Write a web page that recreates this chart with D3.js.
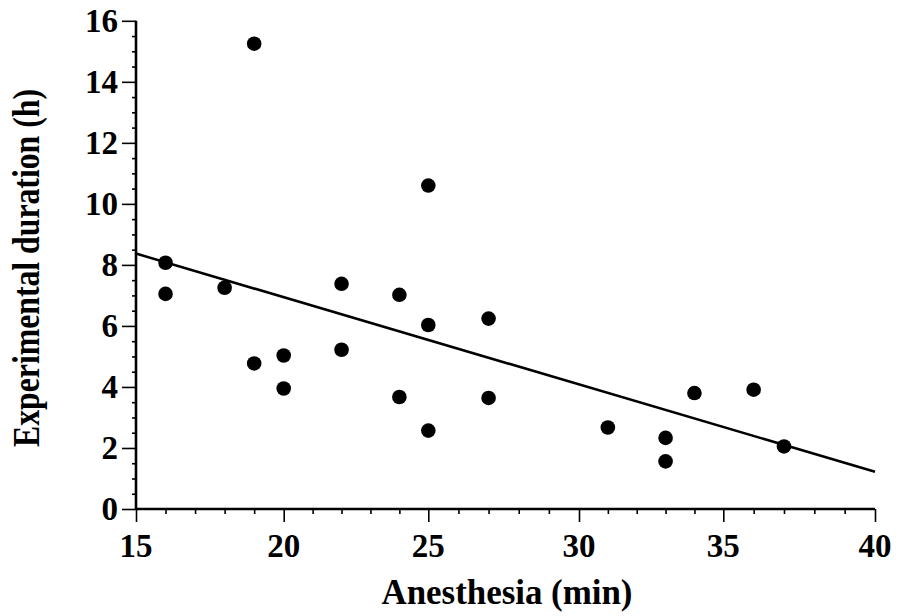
<!DOCTYPE html>
<html>
<head>
<meta charset="utf-8">
<script src="https://cdn.jsdelivr.net/npm/d3@7"></script>
<style>
  html, body { margin: 0; padding: 0; background: #fff; }
  svg { display: block; }
  text { font-family: "Liberation Serif", "Times New Roman", serif; font-weight: bold; fill: #000; }
</style>
</head>
<body>
<svg id="chart" width="898" height="616"></svg>
<script>
// Data
const anesthesia = [16, 16, 18, 19, 19, 20, 20, 22, 22, 24, 24, 25, 25, 25, 27, 27, 31, 33, 33, 34, 36, 37];
const duration   = [8.07, 7.05, 7.25, 15.25, 4.77, 5.03, 3.95, 7.38, 5.22, 7.02, 3.67, 10.6, 6.03, 2.57, 6.24, 3.64, 2.67, 2.33, 1.56, 3.8, 3.91, 2.05];
const fitX = [15, 40];
const fitY = [8.37, 1.22];
const xTicks = [15, 20, 25, 30, 35, 40];
const yTicks = [0, 2, 4, 6, 8, 10, 12, 14, 16];
const xLabel = "Anesthesia (min)";
const yLabel = "Experimental duration (h)";

const svg = d3.select("#chart");
// piecewise scale follows the slightly uneven spacing of the original scanned axis
const x = d3.scaleLinear().domain(xTicks).range([136, 283.7, 428.3, 579, 723.3, 875]);
const y = d3.scaleLinear().domain([0, 16]).range([509, 20.8]);

const g = svg.append("g");

// x axis
const xAxis = g.append("g").attr("transform", `translate(0,${y(0)})`);
xAxis.call(d3.axisBottom(x).tickValues(d3.range(15, 41, 1)).tickSize(5).tickFormat(""));
xAxis.call(a => a.selectAll(".tick").filter(d => d % 5 === 0).select("line").attr("y2", 13));
xAxis.selectAll(".tick line").attr("stroke", "#000").attr("stroke-width", 1.6);
xAxis.select(".domain").attr("stroke", "#000").attr("stroke-width", 2.6).attr("d", `M${x(15)},0H${x(40)}`);
xAxis.selectAll(".xl").data(xTicks).enter().append("text")
  .attr("class", "xl")
  .attr("x", d => x(d)).attr("y", 48)
  .attr("text-anchor", "middle")
  .style("font-size", "33px")
  .text(d => d);

// y axis
const yAxis = g.append("g").attr("transform", `translate(${x(15)},0)`);
yAxis.call(d3.axisLeft(y).tickValues(d3.range(0, 16.01, 0.5)).tickSize(4).tickFormat(""));
yAxis.call(a => a.selectAll(".tick").filter(d => d % 2 === 0).select("line").attr("x2", -14));
yAxis.selectAll(".tick line").attr("stroke", "#000").attr("stroke-width", 1.6);
yAxis.select(".domain").attr("stroke", "#000").attr("stroke-width", 2.6).attr("d", `M0,${y(0)}V${y(16)}`);
yAxis.selectAll(".yl").data(yTicks).enter().append("text")
  .attr("class", "yl")
  .attr("x", -18).attr("y", d => y(d))
  .attr("dy", "0.33em")
  .attr("text-anchor", "end")
  .style("font-size", "33px")
  .text(d => d);

// regression line
g.append("path")
  .datum(fitX.map((v, i) => [v, fitY[i]]))
  .attr("fill", "none").attr("stroke", "#000").attr("stroke-width", 2.6)
  .attr("d", d3.line().x(d => x(d[0])).y(d => y(d[1])));

// points
g.selectAll("circle").data(anesthesia).enter().append("circle")
  .attr("cx", d => x(d))
  .attr("cy", (d, i) => y(duration[i]))
  .attr("r", 7.3)
  .attr("fill", "#000");

// axis titles
g.append("text")
  .attr("x", 507).attr("y", 604)
  .attr("text-anchor", "middle")
  .attr("textLength", 251).attr("lengthAdjust", "spacingAndGlyphs")
  .style("font-size", "35px")
  .text(xLabel);

g.append("text")
  .attr("transform", "translate(39,268) rotate(-90)")
  .attr("text-anchor", "middle")
  .attr("textLength", 358).attr("lengthAdjust", "spacingAndGlyphs")
  .style("font-size", "38px")
  .text(yLabel);
</script>
</body>
</html>
